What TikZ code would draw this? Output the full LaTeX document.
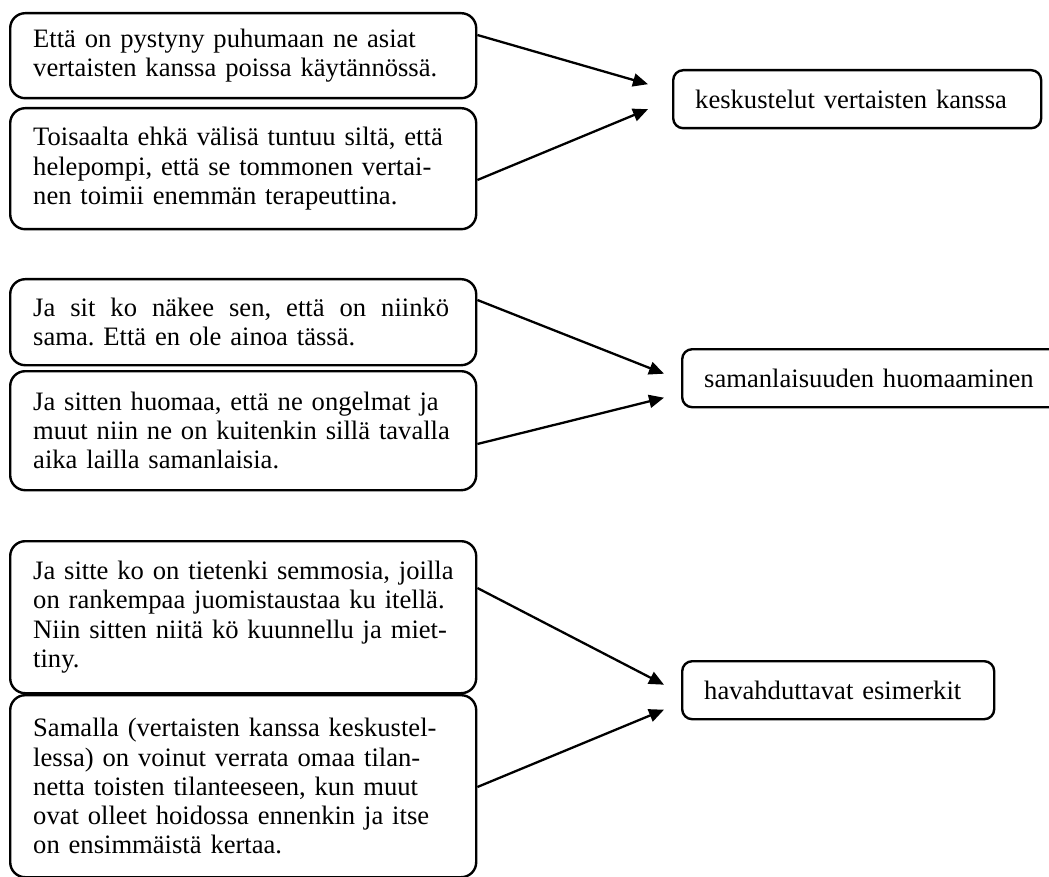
\documentclass[tikz,border=0pt]{standalone}
\usepackage{fontspec}
\setmainfont{Liberation Serif}
\usetikzlibrary{arrows.meta,calc}
\frenchspacing
\tikzset{
  txt/.style={font=\fontsize{26.6}{29.2}\selectfont},
  quote/.style={txt, draw, line width=2.4pt, rounded corners=15pt,
    text width=420pt, inner xsep=23pt, inner ysep=0pt, align=left,
    anchor=north west},
  concept/.style={txt, draw, line width=2.4pt, rounded corners=10pt,
    inner xsep=22pt, inner ysep=0pt, minimum height=58pt, align=left,
    anchor=north west},
  arr/.style={line width=2.3pt, -{Triangle[length=15pt,width=13pt]}}
}
\begin{document}
\begin{tikzpicture}[x=1pt,y=-1pt]
\useasboundingbox (0,0) rectangle (1049,877);

% group 1: talking with peers
\node[quote, minimum height=85pt] (A1) at (9,12)
  {Että on pystyny puhumaan ne asiat\\vertaisten kanssa poissa käytännössä.};
\node[quote, minimum height=121pt] (A2) at (9,107)
  {Toisaalta ehkä välisä tuntuu siltä, että\\helepompi, että se tommonen vertai-\\nen toimii enemmän terapeuttina.};
\node[concept, text width=324pt] (T1) at (672,69) {keskustelut vertaisten kanssa};

% group 2: noticing similarity (first line justified)
\node[quote, minimum height=86pt] (B1) at (9,278)
  {\hbox to 416pt{Ja\hfil sit\hfil ko\hfil näkee\hfil sen,\hfil että\hfil on\hfil niinkö}\\sama. Että en ole ainoa tässä.};
\node[quote, minimum height=119pt] (B2) at (9,370)
  {Ja sitten huomaa, että ne ongelmat ja\\muut niin ne on kuitenkin sillä tavalla\\aika lailla samanlaisia.};
\node[concept, text width=335pt] (T2) at (681,348) {samanlaisuuden huomaaminen};

% group 3: eye-opening examples (first line set tight)
\node[quote, minimum height=152pt] (C1) at (9,540)
  {\hbox to 418pt{Ja sitte ko on tietenki semmosia, joilla}\\on rankempaa juomistaustaa ku itellä.\\Niin sitten niitä kö kuunnellu ja miet-\\tiny.};
\node[quote, minimum height=182pt] (C2) at (9,694)
  {Samalla (vertaisten kanssa keskustel-\\lessa) on voinut verrata omaa tilan-\\netta toisten tilanteeseen, kun muut\\ovat olleet hoidossa ennenkin ja itse\\on ensimmäistä kertaa.};
\node[concept, text width=268pt] (T3) at (681,660) {havahduttavat esimerkit};

% arrow tips stop short of the concept boxes
\coordinate (a1) at ($(T1.west)+(-24,-15)$);
\coordinate (a2) at ($(T1.west)+(-24,10)$);
\coordinate (b1) at ($(T2.west)+(-17,-4.5)$);
\coordinate (b2) at ($(T2.west)+(-17,19.5)$);
\coordinate (c1) at ($(T3.west)+(-17,-5.5)$);
\coordinate (c2) at ($(T3.west)+(-17,19.5)$);

\draw[arr] ($(A1.north east)+(0,23)$) -- (a1);
\draw[arr] ($(A2.north east)+(0,73)$) -- (a2);
\draw[arr] ($(B1.north east)+(0,22)$) -- (b1);
\draw[arr] ($(B2.north east)+(0,74)$) -- (b2);
\draw[arr] ($(C1.north east)+(0,48)$) -- (c1);
\draw[arr] ($(C2.north east)+(0,93)$) -- (c2);
\end{tikzpicture}
\end{document}
